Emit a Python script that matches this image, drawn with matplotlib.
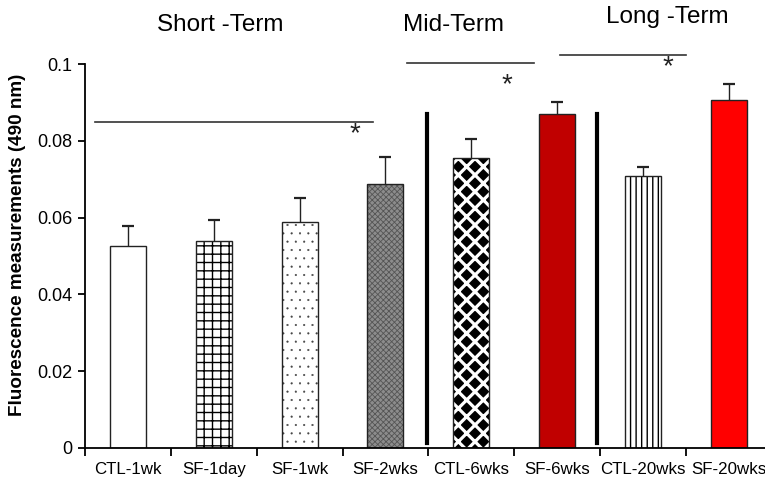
import matplotlib
matplotlib.use("Agg")
import matplotlib.pyplot as plt
import numpy as np

plt.rcParams['font.family'] = ['Liberation Sans', 'DejaVu Sans']

# Group means and upper standard errors
categories = ["CTL-1wk", "SF-1day", "SF-1wk", "SF-2wks",
              "CTL-6wks", "SF-6wks", "CTL-20wks", "SF-20wks"]
means = [0.0526, 0.0539, 0.0588, 0.0689, 0.0756, 0.0871, 0.0709, 0.0907]
errors = [0.0052, 0.0056, 0.0062, 0.0070, 0.0050, 0.0031, 0.0022, 0.0042]

# Fill style per group
face_colors = ["white", "white", "white", "#8c8c8c",
               "black", "#c00000", "white", "#ff0000"]
hatches = [None, "++", "..", "xxxxxx", "xx", None, "|||", None]
hatch_widths = [1.0, 1.0, 0.3, 0.6, 2.3, 1.0, 1.0, 1.0]
hatch_colors = ["black", "black", "#444444", "#555555", "white",
                "black", "black", "black"]

# Period headings and significance brackets
period_labels = ["Short -Term", "Mid-Term", "Long -Term"]
period_x = [1.07, 3.79, 6.29]
period_y = [0.1102, 0.1102, 0.1123]
brackets = [(-0.39, 2.86, 0.0849), (3.25, 4.73, 0.1003), (5.03, 6.50, 0.1025)]
star_x = [2.65, 4.42, 6.29]
star_y = [0.0800, 0.0928, 0.0974]
separators = [3.49, 5.47]
separator_range = (0.0011, 0.0870)

fig = plt.figure(figsize=(7.65, 4.8), dpi=100)
ax = fig.add_axes([85.1 / 765, 32.3 / 480, 686.4 / 765, 383.4 / 480])

x = np.arange(len(categories))
for i in range(len(categories)):
    # filled, hatched body (hatch takes the edge colour)
    with plt.rc_context({'hatch.linewidth': hatch_widths[i]}):
        body = ax.bar(x[i], means[i], width=0.42, color=face_colors[i],
                      edgecolor=hatch_colors[i], linewidth=0,
                      hatch=hatches[i], zorder=2)
    for p in body:
        if hasattr(p, "set_hatch_linewidth"):
            p.set_hatch_linewidth(hatch_widths[i])
    # outline on top
    ax.bar(x[i], means[i], width=0.42, fill=False, edgecolor="#222222",
           linewidth=1.0, zorder=2.5)
    # upper error whisker with its cap
    ax.vlines(x[i], means[i], means[i] + errors[i], color="#222222",
              linewidth=1.0, zorder=3)
    ax.plot(x[i], means[i] + errors[i], marker="_", markersize=9,
            markeredgewidth=1.6, color="#222222", zorder=3)

ax.set_xlim(-0.5, len(categories) - 0.5)
ax.set_ylim(0, 0.1)

# Category labels centred, tick marks between categories
ax.set_xticks(np.arange(-0.5, len(categories)), labels=[])
ax.set_xticks(x, labels=categories, minor=True)
ax.tick_params(axis='x', which='major', direction='out', length=6, width=1.3)
ax.tick_params(axis='x', which='minor', length=0, pad=10, labelsize=12.2)
ax.set_yticks([0, 0.02, 0.04, 0.06, 0.08, 0.1],
              labels=["0", "0.02", "0.04", "0.06", "0.08", "0.1"])
ax.tick_params(axis='y', direction='out', length=5, width=1.3, labelsize=13,
               pad=4)

for side in ("top", "right"):
    ax.spines[side].set_visible(False)
for side in ("left", "bottom"):
    ax.spines[side].set_linewidth(1.3)

ax.set_ylabel("Fluorescence measurements (490 nm)", fontsize=13.6,
              fontweight="bold", labelpad=9)
ax.yaxis.set_label_coords(-0.086, 0.53)

for xs in separators:
    ax.plot([xs, xs], separator_range, color="black", linewidth=3,
            clip_on=False, zorder=4)

for (x0, x1, yb) in brackets:
    ax.plot([x0, x1], [yb, yb], color="#333333", linewidth=1.2,
            clip_on=False)

for sx, sy in zip(star_x, star_y):
    ax.text(sx, sy, "*", ha="center", va="baseline", fontsize=20,
            color="#222222", clip_on=False)

for label, px, py in zip(period_labels, period_x, period_y):
    ax.text(px, py, label, ha="center", va="center", fontsize=17.5,
            color="black", clip_on=False)

fig.savefig("out.png", dpi=100)
